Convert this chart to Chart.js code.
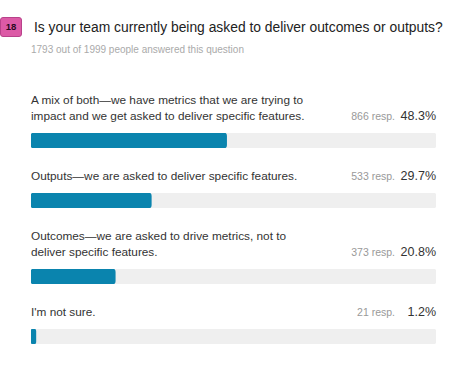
<!DOCTYPE html>
<html>
<head>
<meta charset="utf-8">
<script src="https://cdn.jsdelivr.net/npm/chart.js@4"></script>
<style>
  html, body { margin: 0; padding: 0; background: #fff; }
  body { width: 466px; height: 389px; position: relative; overflow: hidden;
         font-family: "Liberation Sans", Arial, Helvetica, sans-serif; color: #333; }
  .badge { position: absolute; left: 0; top: 17px; width: 20px; height: 18px;
           background: #dc5aa6; border: 1px solid #b8428a; border-radius: 3px;
           font-size: 9.5px; font-weight: bold; color: #2a0a22; text-align: center; line-height: 18px; }
  .title { position: absolute; left: 34px; top: 17px; font-size: 13.85px; color: #222; white-space: nowrap; line-height: 20px; }
  .sub { position: absolute; left: 31px; top: 43px; font-size: 10px; color: #aaa; white-space: nowrap; line-height: 14px; }
  #rows { position: absolute; left: 31px; top: 92px; width: 405px; }
  .row { margin-bottom: 20px; }
  .head { display: flex; align-items: flex-end; margin-bottom: 9px; }
  .lab { flex: 1; font-size: 11.8px; line-height: 16px; color: #333; white-space: nowrap; }
  .resp { font-size: 10.5px; color: #999; line-height: 16px; white-space: nowrap; }
  .pct { width: 41px; text-align: right; font-size: 12.5px; line-height: 16px; color: #333; white-space: nowrap; }
  .bar { position: relative; width: 405px; height: 15px; }
</style>
</head>
<body>
<div class="badge">18</div>
<div class="title">Is your team currently being asked to deliver outcomes or outputs?</div>
<div class="sub">1793 out of 1999 people answered this question</div>
<div id="rows"></div>
<script>
const categories = [
  ["A mix of both\u2014we have metrics that we are trying to", "impact and we get asked to deliver specific features."],
  ["Outputs\u2014we are asked to deliver specific features."],
  ["Outcomes\u2014we are asked to drive metrics, not to", "deliver specific features."],
  ["I'm not sure."]
];
const responses = [866, 533, 373, 21];
const percents = [48.3, 29.7, 20.8, 1.2];
const scaleMax = 100;

const rowsEl = document.getElementById('rows');
categories.forEach((lines, i) => {
  const row = document.createElement('div');
  row.className = 'row';
  const head = document.createElement('div');
  head.className = 'head';
  const lab = document.createElement('div');
  lab.className = 'lab';
  lab.innerHTML = lines.map(l => l.replace(/&/g,'&amp;').replace(/</g,'&lt;')).join('<br>');
  const resp = document.createElement('div');
  resp.className = 'resp';
  resp.textContent = responses[i] + ' resp.';
  const pct = document.createElement('div');
  pct.className = 'pct';
  pct.textContent = percents[i].toFixed(1) + '%';
  head.appendChild(lab); head.appendChild(resp); head.appendChild(pct);
  const barWrap = document.createElement('div');
  barWrap.className = 'bar';
  const cv = document.createElement('canvas');
  barWrap.appendChild(cv);
  row.appendChild(head); row.appendChild(barWrap);
  rowsEl.appendChild(row);

  new Chart(cv, {
    type: 'bar',
    data: {
      labels: [lines.join(' ')],
      datasets: [
        { data: [percents[i]], backgroundColor: '#0a84ae', borderRadius: 3, borderSkipped: false,
          barPercentage: 1, categoryPercentage: 1, grouped: false, order: 0 },
        { data: [scaleMax], backgroundColor: '#efefef', borderRadius: 3, borderSkipped: false,
          barPercentage: 1, categoryPercentage: 1, grouped: false, order: 1 }
      ]
    },
    options: {
      indexAxis: 'y',
      responsive: true,
      maintainAspectRatio: false,
      animation: false,
      layout: { padding: 0 },
      scales: {
        x: { display: false, min: 0, max: scaleMax },
        y: { display: false }
      },
      plugins: { legend: { display: false }, tooltip: { enabled: false } }
    }
  });
});
</script>
</body>
</html>
